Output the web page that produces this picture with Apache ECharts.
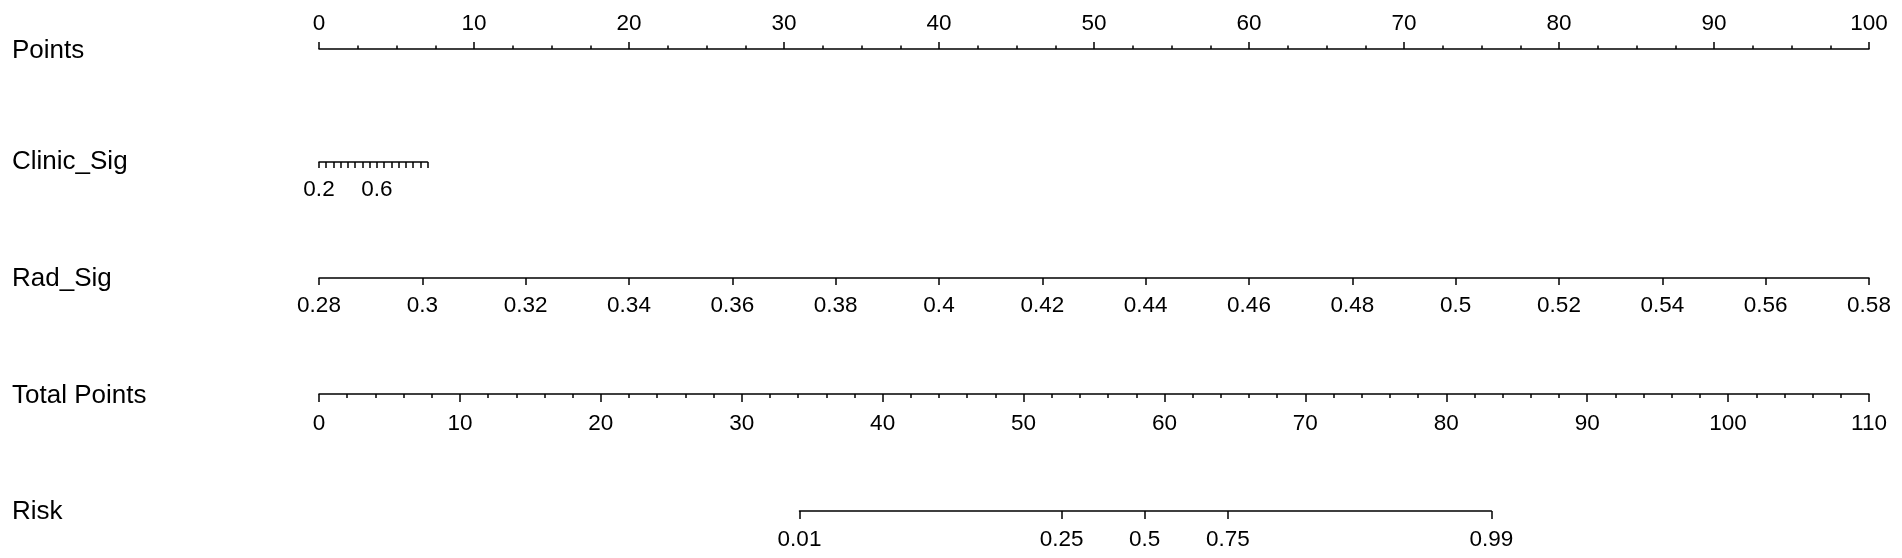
<!DOCTYPE html>
<html>
<head>
<meta charset="utf-8">
<script src="https://cdn.jsdelivr.net/npm/echarts@6/dist/echarts.min.js"></script>
<style>
html,body{margin:0;padding:0;background:#fff;}
#chart{width:1902px;height:558px;}
</style>
</head>
<body>
<div id="chart"></div>
<script>
// ---- data ----
const rowNames = ['Points', 'Clinic_Sig', 'Rad_Sig', 'Total Points', 'Risk'];
const pointsRange = [0, 100];
const clinicRange = [0.2, 0.95];
const clinicLabelValues = [0.2, 0.6];
const clinicPointsAtMax = 7.0;
const radRange = [0.28, 0.58];
const radLabelStep = 0.02;
const totalRange = [0, 110];
const riskLabels = ['0.01', '0.25', '0.5', '0.75', '0.99'];
const riskTotalPoints = [34.1, 52.7, 58.6, 64.5, 83.2];

// ---- layout ----
const FONT = '"Liberation Sans", Arial, sans-serif';
const axisLeft = 319;
const axisWidth = 1550;
const rowY = [47, 162, 278, 394, 511];
const titleShift = [4, 0, 1, 2, 1];
const pxPerPoint = axisWidth / (pointsRange[1] - pointsRange[0]);
const pxPerTotal = axisWidth / (totalRange[1] - totalRange[0]);

const lineStyle = { color: '#000', width: 1.5 };
const labelStyle = { color: '#000', fontSize: 22.5, fontFamily: FONT };

function bottomGrid(y, left, width) {
  return { left: left, width: width, top: y - 10, height: 10, containLabel: false, outerBoundsMode: 'none' };
}

const grids = [
  { left: axisLeft, width: axisWidth, top: rowY[0] - 8, height: 10, containLabel: false, outerBoundsMode: 'none' },
  bottomGrid(rowY[1], axisLeft, clinicPointsAtMax * pxPerPoint),
  bottomGrid(rowY[2], axisLeft, axisWidth),
  bottomGrid(rowY[3], axisLeft, axisWidth),
  bottomGrid(rowY[4], axisLeft + (riskTotalPoints[0] - totalRange[0]) * pxPerTotal,
             (riskTotalPoints[riskTotalPoints.length - 1] - riskTotalPoints[0]) * pxPerTotal)
];

const xAxes = [
  {
    gridIndex: 0, type: 'value', position: 'top', min: pointsRange[0], max: pointsRange[1], interval: 10,
    axisLine: { show: true, lineStyle: lineStyle },
    axisTick: { show: true, length: 7, lineStyle: lineStyle },
    minorTick: { show: true, splitNumber: 4, length: 3.5, lineStyle: lineStyle },
    axisLabel: Object.assign({ margin: 4 }, labelStyle),
    splitLine: { show: false }
  },
  {
    gridIndex: 1, type: 'value', position: 'bottom', min: clinicRange[0], max: clinicRange[1], interval: 0.05,
    axisLine: { show: true, lineStyle: lineStyle },
    axisTick: { show: true, length: 6, lineStyle: lineStyle },
    axisLabel: Object.assign({ margin: 16, customValues: clinicLabelValues }, labelStyle),
    splitLine: { show: false }
  },
  {
    gridIndex: 2, type: 'value', position: 'bottom', min: radRange[0], max: radRange[1], interval: radLabelStep,
    axisLine: { show: true, lineStyle: lineStyle },
    axisTick: { show: true, length: 7, lineStyle: lineStyle },
    axisLabel: Object.assign({ margin: 16, formatter: v => String(+v.toFixed(2)) }, labelStyle),
    splitLine: { show: false }
  },
  {
    gridIndex: 3, type: 'value', position: 'bottom', min: totalRange[0], max: totalRange[1], interval: 10,
    axisLine: { show: true, lineStyle: lineStyle },
    axisTick: { show: true, length: 8, lineStyle: lineStyle },
    minorTick: { show: true, splitNumber: 5, length: 4, lineStyle: lineStyle },
    axisLabel: Object.assign({ margin: 18 }, labelStyle),
    splitLine: { show: false }
  },
  {
    gridIndex: 4, type: 'value', position: 'bottom',
    min: riskTotalPoints[0], max: riskTotalPoints[riskTotalPoints.length - 1],
    axisLine: { show: true, lineStyle: lineStyle },
    axisTick: { show: true, length: 8, lineStyle: lineStyle, customValues: riskTotalPoints },
    axisLabel: Object.assign({
      margin: 17, customValues: riskTotalPoints,
      formatter: function (v) {
        for (let i = 0; i < riskTotalPoints.length; i++) {
          if (Math.abs(riskTotalPoints[i] - v) < 1e-6) return riskLabels[i];
        }
        return '';
      }
    }, labelStyle),
    splitLine: { show: false }
  }
];

const yAxes = grids.map((g, i) => ({ gridIndex: i, type: 'value', show: false, min: 0, max: 1 }));

const titles = rowNames.map((n, i) => ({
  text: n, left: 12, top: rowY[i] - 13 + titleShift[i], padding: 0,
  textStyle: { fontSize: 26, fontWeight: 'normal', color: '#000', fontFamily: FONT }
}));

const chart = echarts.init(document.getElementById('chart'), null, { renderer: 'canvas' });
chart.setOption({
  animation: false,
  backgroundColor: '#fff',
  title: titles,
  grid: grids,
  xAxis: xAxes,
  yAxis: yAxes,
  series: []
});
</script>
</body>
</html>
